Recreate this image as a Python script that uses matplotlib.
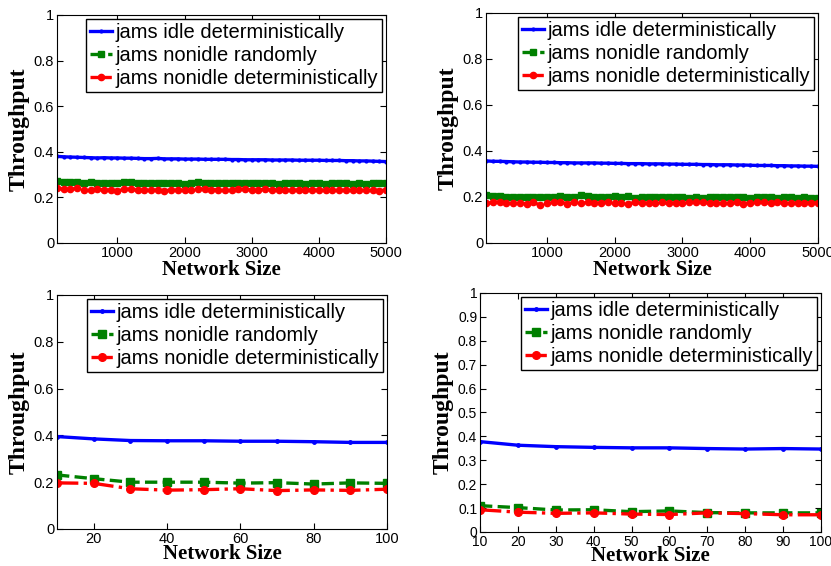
import matplotlib
matplotlib.use("Agg")
import matplotlib.pyplot as plt
import numpy as np

# -----------------------------
# Dados
# -----------------------------
LABELS = ["jams idle deterministically", "jams nonidle randomly", "jams nonidle deterministically"]

x_grande = list(range(100, 5001, 100))
x_pequeno = list(range(10, 101, 10))

# painel superior esquerdo
tl_idle = [0.380, 0.378, 0.377, 0.376, 0.375, 0.374, 0.373, 0.374, 0.373, 0.373,
           0.372, 0.372, 0.371, 0.370, 0.370, 0.371, 0.369, 0.369, 0.369, 0.368,
           0.368, 0.368, 0.367, 0.367, 0.367, 0.367, 0.366, 0.366, 0.365, 0.365,
           0.365, 0.365, 0.364, 0.364, 0.364, 0.364, 0.363, 0.363, 0.363, 0.363,
           0.362, 0.362, 0.362, 0.361, 0.361, 0.360, 0.360, 0.359, 0.358, 0.357]
tl_rand = [0.272, 0.268, 0.266, 0.267, 0.264, 0.266, 0.265, 0.262, 0.263, 0.265,
           0.266, 0.266, 0.263, 0.265, 0.264, 0.263, 0.262, 0.262, 0.264, 0.260,
           0.263, 0.266, 0.262, 0.261, 0.264, 0.265, 0.262, 0.263, 0.262, 0.261,
           0.263, 0.265, 0.263, 0.260, 0.262, 0.262, 0.261, 0.260, 0.263, 0.263,
           0.258, 0.261, 0.263, 0.262, 0.260, 0.261, 0.260, 0.261, 0.262, 0.262]
tl_det = [0.240, 0.236, 0.235, 0.240, 0.232, 0.233, 0.236, 0.232, 0.233, 0.229,
          0.235, 0.236, 0.231, 0.232, 0.232, 0.232, 0.230, 0.232, 0.231, 0.232,
          0.233, 0.238, 0.236, 0.234, 0.233, 0.233, 0.234, 0.235, 0.235, 0.233,
          0.233, 0.235, 0.232, 0.234, 0.232, 0.231, 0.233, 0.234, 0.233, 0.231,
          0.231, 0.234, 0.232, 0.231, 0.231, 0.232, 0.233, 0.232, 0.230, 0.232]

# painel superior direito
tr_idle = [0.357, 0.355, 0.355, 0.354, 0.353, 0.352, 0.352, 0.351, 0.351, 0.350,
           0.350, 0.349, 0.349, 0.348, 0.348, 0.348, 0.348, 0.347, 0.347, 0.346,
           0.346, 0.345, 0.345, 0.345, 0.344, 0.344, 0.344, 0.343, 0.343, 0.342,
           0.342, 0.342, 0.341, 0.341, 0.340, 0.340, 0.340, 0.339, 0.339, 0.338,
           0.337, 0.337, 0.337, 0.336, 0.336, 0.335, 0.335, 0.334, 0.334, 0.333]
tr_rand = [0.210, 0.206, 0.203, 0.201, 0.199, 0.202, 0.199, 0.198, 0.201, 0.200,
           0.199, 0.205, 0.200, 0.199, 0.207, 0.205, 0.198, 0.199, 0.200, 0.203,
           0.198, 0.203, 0.197, 0.200, 0.199, 0.199, 0.198, 0.199, 0.200, 0.202,
           0.197, 0.198, 0.196, 0.198, 0.199, 0.200, 0.198, 0.201, 0.199, 0.197,
           0.199, 0.198, 0.202, 0.196, 0.198, 0.198, 0.197, 0.198, 0.197, 0.196]
tr_det = [0.172, 0.176, 0.178, 0.175, 0.174, 0.175, 0.170, 0.176, 0.165, 0.175,
          0.176, 0.177, 0.171, 0.176, 0.172, 0.176, 0.173, 0.174, 0.179, 0.174,
          0.175, 0.171, 0.176, 0.173, 0.175, 0.174, 0.176, 0.172, 0.175, 0.172,
          0.177, 0.177, 0.176, 0.174, 0.173, 0.175, 0.172, 0.176, 0.171, 0.175,
          0.176, 0.178, 0.172, 0.176, 0.175, 0.172, 0.175, 0.175, 0.174, 0.174]

# painel inferior esquerdo
bl_idle = [0.395, 0.385, 0.378, 0.377, 0.377, 0.375, 0.375, 0.373, 0.370, 0.370]
bl_rand = [0.231, 0.215, 0.200, 0.200, 0.200, 0.196, 0.198, 0.192, 0.197, 0.195]
bl_det = [0.197, 0.195, 0.172, 0.166, 0.168, 0.172, 0.164, 0.167, 0.165, 0.170]

# painel inferior direito
br_idle = [0.378, 0.363, 0.357, 0.354, 0.352, 0.352, 0.349, 0.347, 0.349, 0.347]
br_rand = [0.110, 0.102, 0.092, 0.093, 0.085, 0.088, 0.081, 0.080, 0.080, 0.080]
br_det = [0.093, 0.083, 0.078, 0.080, 0.075, 0.073, 0.080, 0.077, 0.072, 0.072]

# -----------------------------
# Estilo
# -----------------------------
FONTE_TXT = "Liberation Sans"
FONTE_EIXO = "Liberation Serif"


def desenhar(ax, x, idle, rand, det, xticks, yticks, xlim, msize, pad_x=0, tick_size=10.5):
    ax.plot(x, idle, "-", color="#0000ff", lw=2.4, marker=".", ms=msize * 0.9, label=LABELS[0])
    ax.plot(x, rand, "--", color="#008000", lw=2.4, marker="s", ms=msize, label=LABELS[1])
    ax.plot(x, det, "-.", color="#ff0000", lw=2.4, marker="o", ms=msize, mfc="#ff0000",
            label=LABELS[2])
    ax.set_xlim(*xlim)
    ax.set_ylim(0, 1)
    ax.set_xticks(xticks)
    ax.set_yticks(yticks)
    ax.set_yticklabels(["%g" % v for v in yticks])
    ax.tick_params(direction="in", top=True, right=True, length=4, labelsize=tick_size, pad=2)
    for lab in ax.get_xticklabels() + ax.get_yticklabels():
        lab.set_fontfamily(FONTE_TXT)
    ax.set_xlabel("Network Size", fontfamily=FONTE_EIXO, fontweight="bold", fontsize=15, labelpad=pad_x)
    ax.set_ylabel("Throughput", fontfamily=FONTE_EIXO, fontweight="bold", fontsize=17, labelpad=3)
    leg = ax.legend(loc="upper right", prop={"family": FONTE_TXT, "size": 14.5},
                    handlelength=1.1, handletextpad=0.15, borderaxespad=0.2,
                    labelspacing=0.2, borderpad=0.2, fancybox=False, framealpha=1,
                    edgecolor="black")
    leg.get_frame().set_linewidth(1.0)


fig = plt.figure(figsize=(8.31, 5.66), dpi=100)

ax1 = fig.add_axes([0.0686, 0.5707, 0.396, 0.4028])
ax2 = fig.add_axes([0.5848, 0.5707, 0.3995, 0.4064])
ax3 = fig.add_axes([0.0686, 0.0654, 0.397, 0.4134])
ax4 = fig.add_axes([0.5776, 0.0601, 0.4103, 0.4223])

yt_02 = [0, 0.2, 0.4, 0.6, 0.8, 1]
yt_01 = [0, 0.1, 0.2, 0.3, 0.4, 0.5, 0.6, 0.7, 0.8, 0.9, 1]

desenhar(ax1, x_grande, tl_idle, tl_rand, tl_det, [1000, 2000, 3000, 4000, 5000], yt_02, (100, 5000), 4.5)
desenhar(ax2, x_grande, tr_idle, tr_rand, tr_det, [1000, 2000, 3000, 4000, 5000], yt_02, (100, 5000), 4.5)
desenhar(ax3, x_pequeno, bl_idle, bl_rand, bl_det, [20, 40, 60, 80, 100], yt_02, (10, 100), 5.5, pad_x=-1)
desenhar(ax4, x_pequeno, br_idle, br_rand, br_det, x_pequeno, yt_01, (10, 100), 5.5, pad_x=-2,
         tick_size=10)

fig.savefig("out.png", dpi=100)
